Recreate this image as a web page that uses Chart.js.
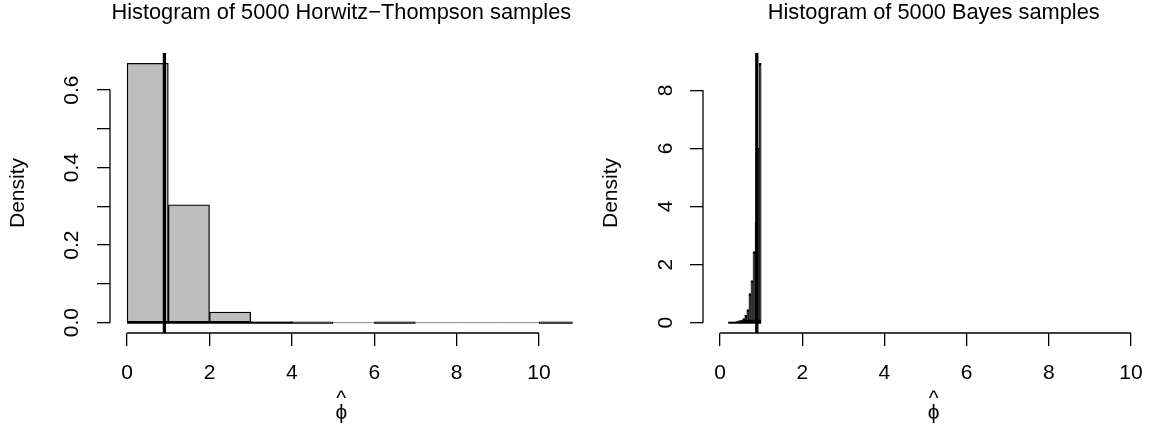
<!DOCTYPE html>
<html><head><meta charset="utf-8">
<script src="https://cdn.jsdelivr.net/npm/chart.js@4.4.1/dist/chart.umd.min.js"></script>
<style>
html,body{margin:0;padding:0;background:#fff;overflow:hidden;width:1149px;height:441px;}
#c1{position:absolute;left:0;top:0;}
#c2{position:absolute;left:574px;top:0;}
</style></head><body>
<canvas id="c1" width="574" height="441"></canvas>
<canvas id="c2" width="600" height="441"></canvas>
<script>
// ---- Left panel: Horwitz-Thompson ----
const htTitle = "Histogram of 5000 Horwitz\u2212Thompson samples";
const htBreaks = [0,1,2,3,4,5,6,7,8,9,10,11];
const htDensity = [0.669,0.304,0.0275,0.003,0.0008,0,0.0005,0,0,0,0.0003];
const htRefValue = 0.905;
const htYTicks = [0,0.1,0.2,0.3,0.4,0.5,0.6];
const htYTickLabels = ["0.0","","0.2","","0.4","","0.6"];

// ---- Right panel: Bayes ----
const bayesTitle = "Histogram of 5000 Bayes samples";
const bayesBreaks = [0.20,0.25,0.30,0.35,0.40,0.45,0.50,0.55,0.60,0.65,0.70,0.75,0.80,0.85,0.90,0.95,1.00];
const bayesDensity = [0.01,0.01,0.02,0.03,0.05,0.07,0.09,0.14,0.25,0.45,1.0,1.45,2.45,3.45,6.0,8.93];
const bayesRefValue = 0.893;
const bayesYTicks = [0,2,4,6,8];
const bayesYTickLabels = ["0","2","4","6","8"];

// ---- shared ----
const xLimits = [0, 10.4];
const xTicks = [0,2,4,6,8,10];
const xTickLabels = ["0","2","4","6","8","10"];
const xTitle = ["^", "\u03D5"];   // phi-hat: hat drawn above phi
const yTitle = "Density";

const FONT = "'Liberation Sans', Arial, Helvetica, sans-serif";
Chart.defaults.font.family = FONT;
Chart.defaults.color = '#000';

const rAxes = {
  id: 'rAxes',
  afterDatasetsDraw(chart, args, opts) {
    const {ctx, chartArea, scales:{x, y}} = chart;
    ctx.save();
    ctx.strokeStyle = '#000';
    const rx = x.getPixelForValue(opts.refValue);
    ctx.lineWidth = 3.3;
    ctx.beginPath();
    ctx.moveTo(rx, chartArea.top);
    ctx.lineTo(rx, chartArea.bottom);
    ctx.stroke();
    ctx.lineWidth = 1.3;
    const yb = chartArea.bottom;
    ctx.beginPath();
    ctx.moveTo(x.getPixelForValue(opts.xTicks[0]), yb);
    ctx.lineTo(x.getPixelForValue(opts.xTicks[opts.xTicks.length-1]), yb);
    ctx.stroke();
    const xl = chartArea.left;
    ctx.beginPath();
    ctx.moveTo(xl, y.getPixelForValue(opts.yTicks[0]));
    ctx.lineTo(xl, y.getPixelForValue(opts.yTicks[opts.yTicks.length-1]));
    ctx.stroke();
    ctx.restore();
  }
};

function makeHist(canvasId, cfg) {
  const barData = cfg.density.map((d, i) => ({x: (cfg.breaks[i] + cfg.breaks[i+1]) / 2, y: d}));
  const baseData = cfg.breaks.map(b => ({x: b, y: 0}));
  const ymax = Math.max(...cfg.density);
  const xr = xLimits[1] - xLimits[0];
  return new Chart(document.getElementById(canvasId), {
    type: 'bar',
    data: {
      datasets: [
        {type: 'bar', data: barData, backgroundColor: cfg.barFill, borderColor: '#000', borderWidth: cfg.barBorder,
         borderSkipped: false, barPercentage: 1, categoryPercentage: 1, order: 1},
        {type: 'line', data: baseData, pointRadius: 0, order: 3,
         borderColor: '#888', borderWidth: 1,
         segment: {
           borderColor: c => cfg.density[c.p0DataIndex] > 0 ? '#000' : '#888',
           borderWidth: c => cfg.density[c.p0DataIndex] > 0 ? 2 : 1
         }}
      ]
    },
    options: {
      responsive: false,
      animation: false,
      devicePixelRatio: 1,
      layout: {padding: {left: 0, right: cfg.padRight, top: 0, bottom: 0}},
      plugins: {
        legend: {display: false},
        tooltip: {enabled: false},
        title: {display: true, text: cfg.title, color: '#000', fullSize: false,
                font: {size: 21.8, weight: 'normal', lineHeight: 1, family: FONT},
                padding: {top: 2, bottom: 29.2}},
        rAxes: {refValue: cfg.refValue, xTicks: xTicks, yTicks: cfg.yTicks}
      },
      scales: {
        x: {
          type: 'linear', offset: false,
          min: xLimits[0] - 0.04 * xr, max: xLimits[1] + 0.04 * xr,
          afterBuildTicks: s => { s.ticks = xTicks.map(v => ({value: v})); },
          afterFit: s => { s.height = 108; },
          ticks: {autoSkip: false, minRotation: 0, maxRotation: 0, padding: 15, color: '#000',
                  font: {size: 21, family: FONT}, callback: (v, i) => xTickLabels[i]},
          grid: {display: true, drawOnChartArea: false, drawTicks: true, tickLength: 13,
                 color: '#000', lineWidth: 1.3, offset: false},
          border: {display: false},
          title: {display: true, text: xTitle, color: '#000',
                  font: {size: 21, family: FONT, lineHeight: 0.68},
                  padding: {top: 0, bottom: 20.6}}
        },
        y: {
          type: 'linear',
          min: -0.04 * ymax, max: ymax * 1.04,
          afterBuildTicks: s => { s.ticks = cfg.yTicks.map(v => ({value: v})); },
          afterFit: s => { s.width = cfg.yWidth; },
          ticks: {autoSkip: false, minRotation: 90, maxRotation: 90, crossAlign: 'center',
                  padding: cfg.yTickPad, color: '#000', font: {size: 21, family: FONT},
                  callback: (v, i) => cfg.yTickLabels[i]},
          grid: {display: true, drawOnChartArea: false, drawTicks: true, tickLength: 13,
                 color: '#000', lineWidth: 1.3},
          border: {display: false},
          title: {display: true, text: yTitle, color: '#000', font: {size: 21, family: FONT, lineHeight: 1},
                  padding: {top: cfg.yTitlePad, bottom: 0}}
        }
      }
    },
    plugins: [rAxes]
  });
}

makeHist('c1', {title: htTitle, breaks: htBreaks, density: htDensity, refValue: htRefValue,
  yTicks: htYTicks, yTickLabels: htYTickLabels, yWidth: 110, padRight: 1.4, yTickPad: 10.4, yTitlePad: 7.5,
  barBorder: 1.3, barFill: '#bebebe'});
makeHist('c2', {title: bayesTitle, breaks: bayesBreaks, density: bayesDensity, refValue: bayesRefValue,
  yTicks: bayesYTicks, yTickLabels: bayesYTickLabels, yWidth: 129, padRight: 9.5, yTickPad: 18.2, yTitlePad: 27.2,
  barBorder: 2, barFill: '#000'});
</script>
</body></html>
